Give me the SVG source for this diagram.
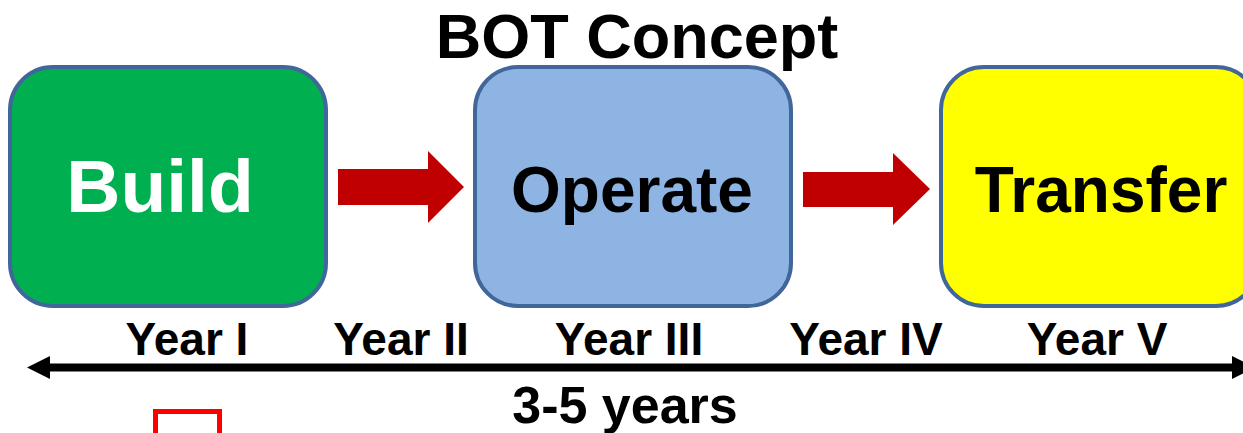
<svg xmlns="http://www.w3.org/2000/svg" width="1243" height="433" viewBox="0 0 1243 433">
  <style>
    .box { stroke: #41669A; stroke-width: 4; }
    .lbl { font-family: "Liberation Sans", Arial, sans-serif; font-weight: bold; text-anchor: middle; }
    .year { font-size: 46px; fill: #000; }
    .flow { fill: #C00000; }
  </style>
  <defs>
    <marker id="head" viewBox="0 0 23 23" refX="0" refY="11.5" markerWidth="23" markerHeight="23" markerUnits="userSpaceOnUse" orient="auto-start-reverse">
      <path d="M0,0 L23,11.5 L0,23 Z" fill="#000"/>
    </marker>
  </defs>

  <rect width="1243" height="433" fill="#fff"/>

  <text class="lbl" x="637" y="58" font-size="63">BOT Concept</text>

  <g id="build">
    <rect class="box" x="10" y="67" width="316" height="239" rx="43" fill="#00B050"/>
    <text class="lbl" x="160" y="212" font-size="75" fill="#fff">Build</text>
  </g>

  <g id="operate">
    <rect class="box" x="475" y="67" width="316" height="239" rx="43" fill="#8EB4E3"/>
    <text class="lbl" x="632" y="212" font-size="64" fill="#000">Operate</text>
  </g>

  <g id="transfer">
    <rect class="box" x="941" y="67" width="318" height="239" rx="43" fill="#FFFF00"/>
    <text class="lbl" x="1101" y="212" font-size="64" fill="#000">Transfer</text>
  </g>

  <g id="connectors">
    <!-- block arrows between phases -->
    <path class="flow" d="M338,169 H428 V151 L464,187 L428,223 V205 H338 Z"/>
    <path class="flow" d="M803,172 H893 V153 L930,189 L893,225 V207 H803 Z"/>
    <!-- timeline -->
    <line x1="50" y1="367.5" x2="1232" y2="367.5" stroke="#000" stroke-width="8" marker-start="url(#head)" marker-end="url(#head)"/>
  </g>

  <g id="years">
    <text class="lbl year" x="187" y="355">Year I</text>
    <text class="lbl year" x="401" y="355">Year II</text>
    <text class="lbl year" x="629" y="355">Year III</text>
    <text class="lbl year" x="866" y="355">Year IV</text>
    <text class="lbl year" x="1097" y="355">Year V</text>
  </g>

  <text class="lbl" x="625" y="423" font-size="52">3-5 years</text>

  <rect x="155.5" y="411.5" width="64" height="40" fill="none" stroke="#FF0000" stroke-width="5"/>
</svg>
